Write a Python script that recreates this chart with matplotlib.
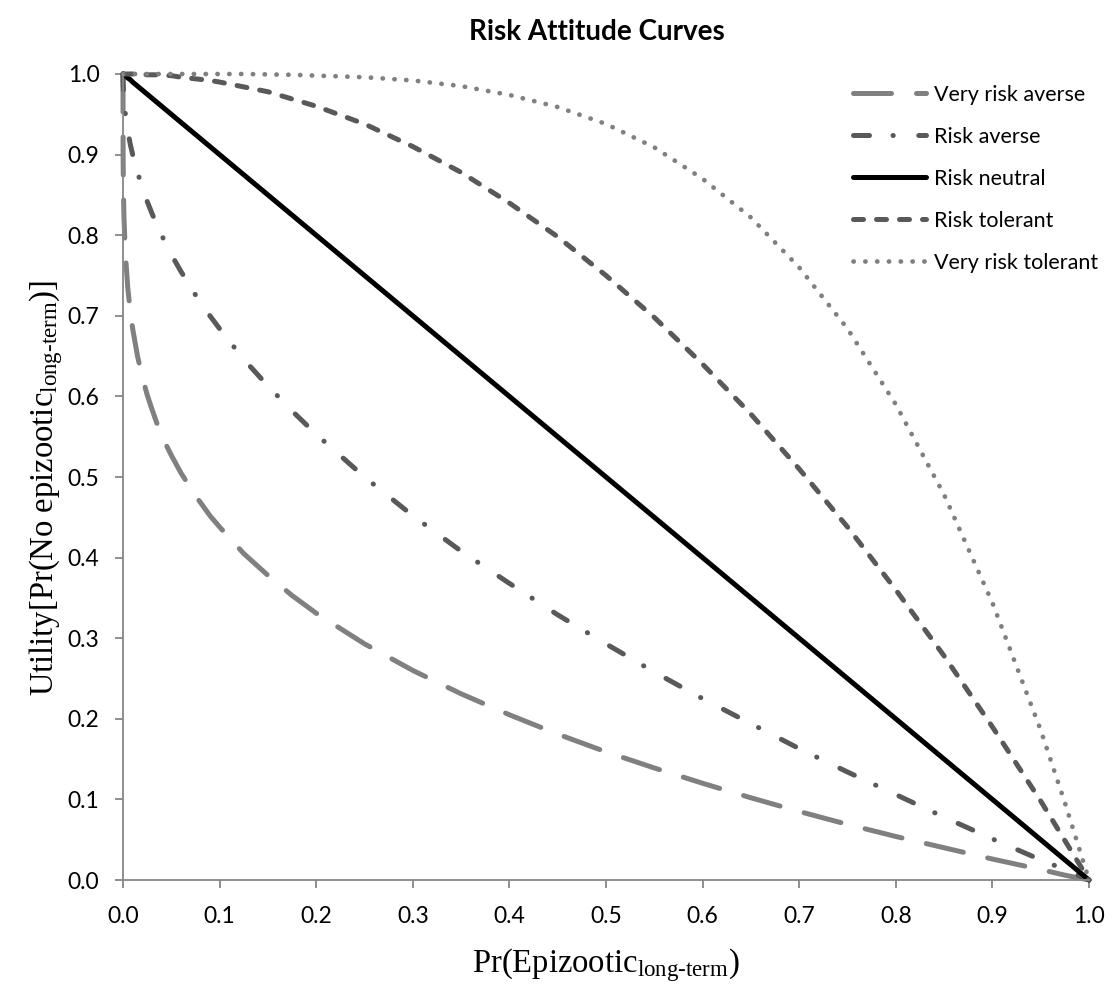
import matplotlib
matplotlib.use("Agg")
import matplotlib.pyplot as plt

plt.rcParams['font.family'] = ['Lato', 'DejaVu Sans']
plt.rcParams['mathtext.fontset'] = 'custom'
plt.rcParams['mathtext.rm'] = 'Liberation Serif'
plt.rcParams['mathtext.it'] = 'Liberation Serif:italic'
plt.rcParams['mathtext.bf'] = 'Liberation Serif:bold'

# ---- data ----
x_vals = [0, 0.0001, 0.0005, 0.001, 0.0025, 0.005, 0.0075, 0.01, 0.015, 0.02, 0.025, 0.03,
          0.035, 0.04, 0.045, 0.05, 0.06, 0.075, 0.09, 0.1, 0.125, 0.15, 0.175, 0.2, 0.25,
          0.3, 0.35, 0.4, 0.45, 0.5, 0.55, 0.6, 0.65, 0.7, 0.75, 0.8, 0.85, 0.9, 0.95,
          0.975, 1.0]

very_risk_averse = [1.000, 0.900, 0.850, 0.822, 0.776, 0.734, 0.706, 0.684, 0.650, 0.624,
                    0.602, 0.584, 0.567, 0.553, 0.539, 0.527, 0.505, 0.477, 0.452, 0.438,
                    0.405, 0.378, 0.353, 0.331, 0.293, 0.260, 0.231, 0.205, 0.181, 0.159,
                    0.139, 0.120, 0.102, 0.085, 0.069, 0.054, 0.040, 0.026, 0.013, 0.006,
                    0.000]

risk_averse = [1.000, 0.990, 0.978, 0.968, 0.950, 0.929, 0.913, 0.900, 0.878, 0.859,
               0.842, 0.827, 0.813, 0.800, 0.788, 0.776, 0.755, 0.726, 0.700, 0.684,
               0.646, 0.613, 0.582, 0.553, 0.500, 0.452, 0.408, 0.368, 0.329, 0.293,
               0.258, 0.225, 0.194, 0.163, 0.134, 0.106, 0.078, 0.051, 0.025, 0.013,
               0.000]

risk_neutral = [1.000, 1.000, 1.000, 0.999, 0.998, 0.995, 0.993, 0.990, 0.985, 0.980,
                0.975, 0.970, 0.965, 0.960, 0.955, 0.950, 0.940, 0.925, 0.910, 0.900,
                0.875, 0.850, 0.825, 0.800, 0.750, 0.700, 0.650, 0.600, 0.550, 0.500,
                0.450, 0.400, 0.350, 0.300, 0.250, 0.200, 0.150, 0.100, 0.050, 0.025,
                0.000]

risk_tolerant = [1.000, 1.000, 1.000, 1.000, 1.000, 1.000, 1.000, 1.000, 1.000, 1.000,
                 0.999, 0.999, 0.999, 0.998, 0.998, 0.998, 0.996, 0.994, 0.992, 0.990,
                 0.984, 0.978, 0.969, 0.960, 0.938, 0.910, 0.878, 0.840, 0.798, 0.750,
                 0.698, 0.640, 0.578, 0.510, 0.438, 0.360, 0.278, 0.190, 0.098, 0.049,
                 0.000]

very_risk_tolerant = [1.000, 1.000, 1.000, 1.000, 1.000, 1.000, 1.000, 1.000, 1.000, 1.000,
                      1.000, 1.000, 1.000, 1.000, 1.000, 1.000, 1.000, 1.000, 1.000, 1.000,
                      1.000, 0.9995, 0.999, 0.998, 0.996, 0.992, 0.985, 0.974, 0.959, 0.938,
                      0.909, 0.870, 0.822, 0.760, 0.684, 0.590, 0.478, 0.344, 0.186, 0.096,
                      0.000]

series_labels = ["Very risk averse", "Risk averse", "Risk neutral", "Risk tolerant", "Very risk tolerant"]
x_ticks = [0.0, 0.1, 0.2, 0.3, 0.4, 0.5, 0.6, 0.7, 0.8, 0.9, 1.0]
y_ticks = [0.0, 0.1, 0.2, 0.3, 0.4, 0.5, 0.6, 0.7, 0.8, 0.9, 1.0]

# ---- figure ----
fig = plt.figure(figsize=(11.17, 10.05), dpi=100)
ax = fig.add_axes([123/1117, 1 - 880/1005, 966/1117, 806/1005])

lw = 3.6
styles = [
    dict(color='#808080', linestyle=(0, (7.6, 5.0)), lw=lw),
    dict(color='#595959', linestyle=(0, (3.2, 4.7, 0.05, 5.1)), lw=lw),
    dict(color='#000000', linestyle='-', lw=lw),
    dict(color='#595959', linestyle=(0, (2.0, 2.6)), lw=lw),
    dict(color='#808080', linestyle=(0, (0.05, 2.45)), lw=3.4),
]
data = [very_risk_averse, risk_averse, risk_neutral, risk_tolerant, very_risk_tolerant]
for ys, lab, st in zip(data, series_labels, styles):
    ax.plot(x_vals, ys, label=lab, dash_capstyle='round', solid_capstyle='round',
            clip_on=False, **st)

ax.set_xlim(0, 1)
ax.set_ylim(0, 1)
ax.set_xticks(x_ticks)
ax.set_yticks(y_ticks)
ax.set_xticklabels([f"{v:.1f}" for v in x_ticks])
ax.set_yticklabels([f"{v:.1f}" for v in y_ticks])

for s in ['top', 'right']:
    ax.spines[s].set_visible(False)
for s in ['left', 'bottom']:
    ax.spines[s].set_color('#868686')
    ax.spines[s].set_linewidth(1.3)
ax.tick_params(axis='both', direction='out', length=6, width=1.3, color='#868686',
               labelsize=16.5, labelcolor='black')
ax.tick_params(axis='y', pad=11)
ax.tick_params(axis='x', pad=13)

fig.text(597/1117, 1 - 32/1005, "Risk Attitude Curves", ha='center', va='center',
         fontsize=20, fontweight='bold')

fig.text(606/1117, 1 - 972/1005, "Pr(Epizootic$_{\\mathrm{long\u2010term}}$)",
         ha='center', va='baseline', fontsize=23.5, family='Liberation Serif')
fig.text(53/1117, 1 - 488/1005, "Utility[Pr(No epizootic$_{\\mathrm{long\u2010term}}$)]",
         ha='center', va='baseline', rotation=90, rotation_mode='anchor',
         fontsize=23.5, family='Liberation Serif')

leg = ax.legend(loc='upper left', bbox_to_anchor=(853/1117, 1 - 85/1005),
                bbox_transform=fig.transFigure, frameon=False, fontsize=15.5,
                handlelength=3.4, handletextpad=0.35, labelspacing=1.02,
                borderpad=0, borderaxespad=0)

fig.savefig("out.png", dpi=100)
